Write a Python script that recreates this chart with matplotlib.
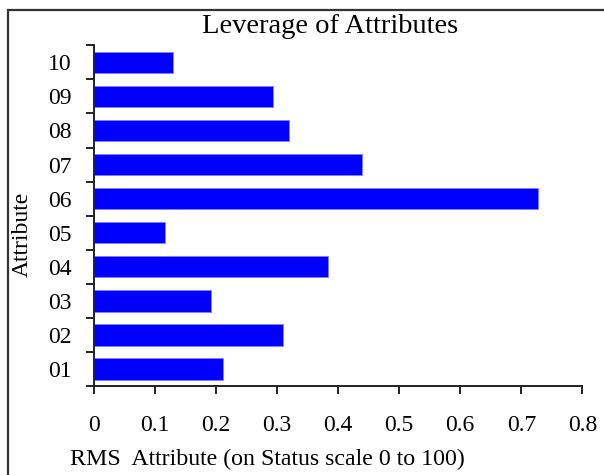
import matplotlib
matplotlib.use("Agg")
import matplotlib.pyplot as plt
from matplotlib.patches import Rectangle
from matplotlib.ticker import FixedLocator, NullFormatter

categories = ["01", "02", "03", "04", "05", "06", "07", "08", "09", "10"]
values = [0.212, 0.310, 0.192, 0.383, 0.117, 0.727, 0.4385, 0.320, 0.294, 0.130]
xticks = [0, 0.1, 0.2, 0.3, 0.4, 0.5, 0.6, 0.7, 0.8]
xticklabels = ["0", "0.1", "0.2", "0.3", "0.4", "0.5", "0.6", "0.7", "0.8"]

plt.rcParams['font.family'] = ['Liberation Serif', 'DejaVu Serif']

W, H = 604, 475
fig = plt.figure(figsize=(W / 100, H / 100), dpi=100)
fig.patch.set_facecolor('white')

# outer frame (extends beyond right/bottom edges)
fig.patches.append(Rectangle((8 / W, -0.05), 1.2, 1 - 10 / H + 0.05,
                             transform=fig.transFigure, fill=False,
                             edgecolor='#333333', linewidth=1.6))

ax = fig.add_axes([94 / W, 1 - 386 / H, (582.3 - 94) / W, (386 - 45.3) / H])
ypos = list(range(len(categories)))
ax.barh(ypos, values, height=0.63, color='#0000FF', edgecolor='#8080ff', linewidth=0.6)

ax.set_xlim(0, 0.8)
ax.set_ylim(-0.5, len(categories) - 0.5)
ax.set_xticks(xticks)
ax.set_xticklabels(xticklabels, fontsize=17)

# y: ticks at category boundaries, labels at centers
ax.yaxis.set_major_locator(FixedLocator([i - 0.5 for i in range(len(categories) + 1)]))
ax.yaxis.set_major_formatter(NullFormatter())
ax.set_yticks(ypos, minor=True)
ax.set_yticklabels(categories, minor=True, fontsize=17)
ax.tick_params(axis='y', which='major', direction='out', length=6, width=1.4, color='#222222')
ax.tick_params(axis='y', which='minor', length=0, pad=16)
ax.tick_params(axis='x', which='major', direction='out', length=6, width=1.4, color='#222222', pad=15)

for s in ['top', 'right']:
    ax.spines[s].set_visible(False)
for s in ['left', 'bottom']:
    ax.spines[s].set_linewidth(1.4)
    ax.spines[s].set_color('#222222')

fig.text(330 / W, 1 - 33.3 / H, "Leverage of Attributes", fontsize=20.5,
         ha='center', va='baseline')
fig.text(70 / W, 1 - 465 / H, "RMS  Attribute (on Status scale 0 to 100)", fontsize=17.2,
         ha='left', va='baseline')
fig.text(22 / W, 1 - 234 / H, "Attribute", fontsize=17, rotation=90,
         ha='center', va='center')

fig.savefig("out.png", dpi=100)
